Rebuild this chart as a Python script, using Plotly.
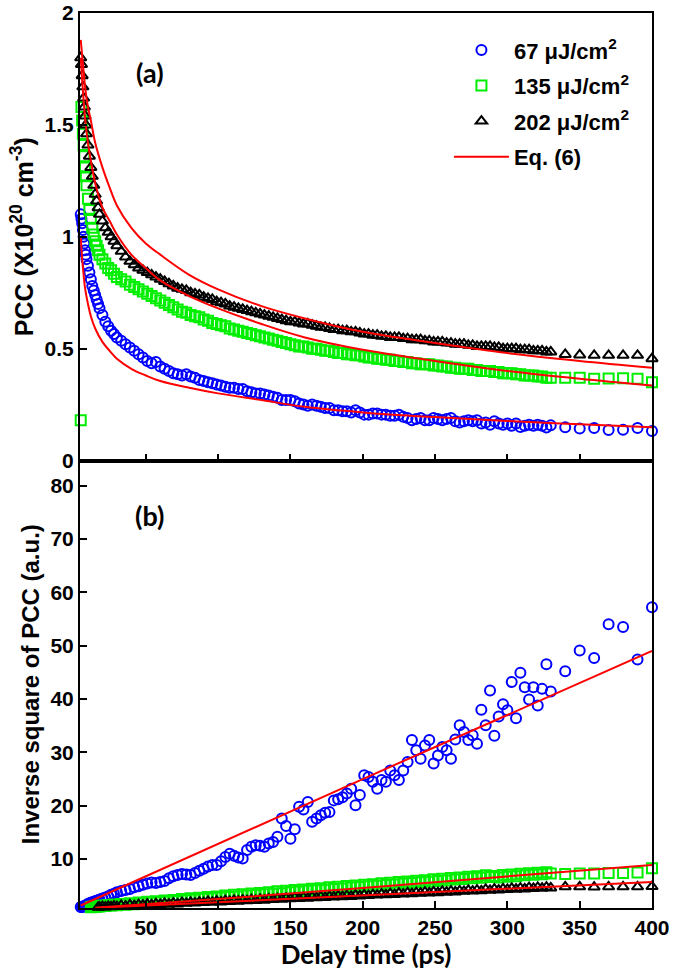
import plotly.graph_objects as go
from plotly.subplots import make_subplots

# delay times (ps) of the measured points
delay = [
    5, 5.5, 6, 6.5, 7, 7.5, 8, 8.5, 9, 10,
    11, 12, 13, 14, 15, 16, 17, 18, 20, 22,
    24, 26, 28, 30, 33, 36, 39, 42, 45, 48,
    51, 54, 57, 60, 63, 66, 69, 72, 75, 78,
    81, 84, 87, 90, 93, 96, 99, 102, 105, 108,
    111, 114, 117, 120, 123, 126, 129, 132, 135, 138,
    141, 144, 147, 150, 153, 156, 159, 162, 165, 168,
    171, 174, 177, 180, 183, 186, 189, 192, 195, 198,
    201, 204, 207, 210, 213, 216, 219, 222, 225, 228,
    231, 234, 237, 240, 243, 246, 249, 252, 255, 258,
    261, 264, 267, 270, 273, 276, 279, 282, 285, 288,
    291, 294, 297, 300, 303, 306, 309, 312, 315, 318,
    321, 324, 327, 330, 340, 350, 360, 370, 380, 390,
    400,
]

# (a) PCC, x10^20 cm^-3
pcc_67 = [
    1.10, 1.08, 1.06, 1.03, 1.00, 0.97, 0.94, 0.92, 0.90, 0.87,
    0.84, 0.81, 0.78, 0.76, 0.74, 0.72, 0.70, 0.68, 0.65, 0.62,
    0.60, 0.58, 0.565, 0.55, 0.535, 0.52, 0.505, 0.49, 0.475, 0.46,
    0.445, 0.435, 0.44, 0.42, 0.41, 0.40, 0.39, 0.385, 0.38, 0.385,
    0.375, 0.37, 0.36, 0.355, 0.35, 0.345, 0.34, 0.335, 0.33, 0.325,
    0.325, 0.32, 0.32, 0.31, 0.305, 0.30, 0.30, 0.295, 0.29, 0.285,
    0.28, 0.27, 0.27, 0.27, 0.265, 0.255, 0.25, 0.245, 0.25, 0.245,
    0.24, 0.235, 0.235, 0.225, 0.225, 0.22, 0.22, 0.215, 0.225, 0.215,
    0.205, 0.205, 0.21, 0.21, 0.205, 0.205, 0.20, 0.20, 0.205, 0.195,
    0.19, 0.18, 0.185, 0.19, 0.18, 0.18, 0.19, 0.185, 0.18, 0.185,
    0.19, 0.175, 0.17, 0.175, 0.18, 0.175, 0.18, 0.165, 0.17, 0.16,
    0.175, 0.165, 0.16, 0.165, 0.155, 0.165, 0.15, 0.155, 0.16, 0.155,
    0.16, 0.155, 0.148, 0.157, 0.149, 0.143, 0.145, 0.136, 0.137, 0.145,
    0.132,
]
pcc_135 = [
    0.18, 1.58, 1.52, 1.46, 1.41, 1.36, 1.31, 1.27, 1.23, 1.17,
    1.12, 1.08, 1.04, 1.01, 0.98, 0.96, 0.94, 0.92, 0.90, 0.88,
    0.86, 0.85, 0.835, 0.82, 0.81, 0.80, 0.785, 0.775, 0.765, 0.755,
    0.745, 0.735, 0.725, 0.715, 0.705, 0.695, 0.685, 0.675, 0.665, 0.66,
    0.65, 0.645, 0.64, 0.63, 0.625, 0.615, 0.61, 0.605, 0.60, 0.59,
    0.585, 0.58, 0.575, 0.57, 0.565, 0.56, 0.555, 0.55, 0.545, 0.54,
    0.535, 0.53, 0.525, 0.52, 0.515, 0.51, 0.51, 0.505, 0.50, 0.50,
    0.495, 0.49, 0.49, 0.485, 0.48, 0.48, 0.475, 0.475, 0.47, 0.47,
    0.465, 0.46, 0.46, 0.455, 0.455, 0.45, 0.45, 0.445, 0.445, 0.44,
    0.44, 0.435, 0.435, 0.43, 0.43, 0.43, 0.425, 0.425, 0.42, 0.42,
    0.415, 0.415, 0.41, 0.41, 0.41, 0.405, 0.405, 0.40, 0.40, 0.40,
    0.395, 0.395, 0.39, 0.39, 0.39, 0.385, 0.385, 0.38, 0.38, 0.38,
    0.375, 0.375, 0.37, 0.37, 0.37, 0.37, 0.365, 0.366, 0.368, 0.365,
    0.35,
]
pcc_202 = [
    1.80, 1.77, 1.72, 1.67, 1.62, 1.58, 1.54, 1.50, 1.46, 1.41,
    1.36, 1.31, 1.27, 1.23, 1.19, 1.16, 1.13, 1.10, 1.07, 1.04,
    1.02, 1.00, 0.98, 0.96, 0.935, 0.91, 0.89, 0.875, 0.86, 0.85,
    0.84, 0.83, 0.82, 0.81, 0.80, 0.79, 0.78, 0.77, 0.765, 0.76,
    0.75, 0.745, 0.74, 0.73, 0.725, 0.72, 0.71, 0.705, 0.70, 0.69,
    0.685, 0.68, 0.675, 0.67, 0.665, 0.66, 0.655, 0.65, 0.645, 0.64,
    0.635, 0.63, 0.625, 0.62, 0.62, 0.615, 0.61, 0.61, 0.605, 0.60,
    0.595, 0.595, 0.59, 0.585, 0.585, 0.58, 0.58, 0.575, 0.575, 0.57,
    0.565, 0.565, 0.56, 0.56, 0.555, 0.555, 0.55, 0.55, 0.55, 0.545,
    0.545, 0.54, 0.54, 0.54, 0.535, 0.535, 0.53, 0.53, 0.53, 0.525,
    0.525, 0.52, 0.52, 0.52, 0.515, 0.515, 0.51, 0.51, 0.51, 0.51,
    0.505, 0.505, 0.50, 0.50, 0.50, 0.50, 0.495, 0.495, 0.495, 0.49,
    0.49, 0.49, 0.485, 0.485, 0.474, 0.472, 0.47, 0.47, 0.47, 0.47,
    0.455,
]

# (b) inverse square of PCC, a.u. (None = below the axis)
inv_67 = [
    1.0, 1.0, 1.05, 1.1, 1.1, 1.15, 1.2, 1.3, 1.4, 1.6,
    1.7, 1.8, 1.9, 2.0, 2.1, 2.2, 2.3, 2.4, 2.6, 2.8,
    3.0, 3.3, 3.5, 3.8, 4.0, 4.2, 4.4, 4.7, 4.9, 5.2,
    5.4, 5.6, 5.5, 5.7, 5.9, 6.4, 6.8, 7.0, 7.2, 7.1,
    7.0, 7.4, 7.8, 8.2, 8.6, 8.9, 8.9, 9.6, 10.4, 11.0,
    10.6, 10.3, 10.1, 11.7, 12.3, 12.6, 12.5, 12.3, 12.9, 13.2,
    14.2, 17.6, 16.2, 13.8, 15.6, 19.8, 19.3, 20.7, 17.0, 17.6,
    18.2, 18.7, 18.8, 21.0, 21.2, 21.6, 22.3, 23.2, 20.1, 22.0,
    25.7, 25.4, 24.5, 23.2, 24.8, 24.5, 26.6, 25.7, 24.8, 26.6,
    28.2, 32.3, 30.4, 28.8, 31.3, 32.3, 27.9, 29.4, 31.0, 30.4,
    28.8, 32.4, 35.1, 33.8, 32.3, 33.2, 31.6, 38.0, 35.1, 41.6,
    33.1, 36.7, 39.0, 37.9, 43.2, 36.4, 44.9, 42.2, 39.9, 42.2,
    38.8, 41.9, 46.5, 41.4, 45.2, 49.1, 47.7, 54.0, 53.5, 47.4,
    57.2,
]
inv_135 = [
    None, None, None, None, None, None, None, None, None, None,
    None, 0.95, 1.05, 1.0, 1.15, 1.05, 1.2, 1.1, 1.3, 1.2,
    1.4, 1.3, 1.5, 1.35, 1.6, 1.45, 1.7, 1.55, 1.85, 1.7,
    2.0, 1.8, 2.1, 1.95, 2.25, 2.05, 2.35, 2.15, 2.5, 2.3,
    2.65, 2.4, 2.75, 2.55, 2.9, 2.65, 3.0, 2.8, 3.15, 2.9,
    3.3, 3.0, 3.4, 3.15, 3.55, 3.25, 3.65, 3.4, 3.8, 3.5,
    3.95, 3.6, 4.05, 3.8, 4.2, 3.9, 4.3, 4.05, 4.45, 4.15,
    4.55, 4.25, 4.7, 4.4, 4.8, 4.5, 4.95, 4.65, 5.05, 4.75,
    5.2, 4.9, 5.3, 5.0, 5.45, 5.15, 5.55, 5.25, 5.7, 5.4,
    5.8, 5.5, 5.95, 5.65, 6.05, 5.75, 6.2, 5.9, 6.3, 6.0,
    6.45, 6.15, 6.55, 6.25, 6.7, 6.4, 6.8, 6.5, 6.95, 6.65,
    6.85, 6.55, 7.0, 6.7, 7.1, 6.8, 7.25, 6.95, 7.35, 7.05,
    7.45, 7.15, 7.55, 7.3, 7.2, 7.3, 7.3, 7.4, 7.4, 7.5,
    8.3,
]
inv_202 = [
    None, None, None, None, None, None, None, None, None, None,
    None, None, None, None, None, None, 0.95, 1.0, 1.1, 1.0,
    1.15, 1.05, 1.2, 1.1, 1.3, 1.2, 1.4, 1.25, 1.45, 1.35,
    1.55, 1.4, 1.6, 1.5, 1.7, 1.55, 1.75, 1.6, 1.85, 1.7,
    1.9, 1.75, 1.95, 1.85, 2.05, 1.9, 2.1, 1.95, 2.2, 2.05,
    2.25, 2.1, 2.3, 2.2, 2.4, 2.25, 2.45, 2.3, 2.55, 2.4,
    2.6, 2.45, 2.65, 2.55, 2.75, 2.6, 2.8, 2.65, 2.9, 2.75,
    2.95, 2.8, 3.0, 2.9, 3.1, 2.95, 3.15, 3.0, 3.25, 3.1,
    3.3, 3.15, 3.35, 3.25, 3.45, 3.3, 3.5, 3.35, 3.6, 3.45,
    3.65, 3.5, 3.7, 3.6, 3.8, 3.65, 3.85, 3.7, 3.95, 3.8,
    4.0, 3.85, 4.05, 3.95, 4.15, 4.0, 4.2, 4.05, 4.3, 4.15,
    4.35, 4.2, 4.4, 4.3, 4.5, 4.35, 4.55, 4.4, 4.65, 4.5,
    4.7, 4.55, 4.75, 4.6, 4.8, 4.8, 4.75, 4.8, 4.8, 4.8,
    4.85,
]

# Eq. (6) fits
fit_t = [5, 6, 7, 8, 10, 12, 15, 20, 25, 30, 40, 50, 60, 80, 100, 130, 160, 200, 250, 300, 350, 400]
fit_67 = [1.0, 0.9, 0.83, 0.77, 0.70, 0.645, 0.59, 0.53, 0.49, 0.455, 0.41, 0.38, 0.355,
          0.325, 0.30, 0.27, 0.24, 0.215, 0.194, 0.177, 0.162, 0.149]
fit_135 = [1.80, 1.70, 1.61, 1.53, 1.42, 1.34, 1.24, 1.13, 1.07, 1.01, 0.92, 0.86, 0.805,
           0.735, 0.68, 0.61, 0.55, 0.495, 0.445, 0.40, 0.365, 0.335]
fit_202 = [1.88, 1.81, 1.74, 1.67, 1.58, 1.52, 1.42, 1.31, 1.22, 1.14, 1.04, 0.97, 0.92,
           0.83, 0.765, 0.69, 0.635, 0.575, 0.525, 0.48, 0.445, 0.415]

lin_t_67 = [5, 100, 200, 300, 400]
lin_67 = [1.3, 12.9, 25.0, 37.0, 49.0]
lin_t_135 = [15, 100, 200, 300, 400]
lin_135 = [0.9, 2.5, 4.6, 6.8, 8.9]
lin_t_202 = [18, 100, 200, 300, 400]
lin_202 = [0.9, 1.95, 3.2, 4.45, 5.7]

names = ["67 μJ/cm<sup>2</sup>", "135 μJ/cm<sup>2</sup>", "202 μJ/cm<sup>2</sup>"]
colors = ["#0000ff", "#00ee00", "#000000"]
symbols = ["circle-open", "square-open", "triangle-up-open"]

fig = make_subplots(rows=2, cols=1, vertical_spacing=0)

top_sets = [pcc_67, pcc_135, pcc_202]
bot_sets = [inv_67, inv_135, inv_202]
for i in range(3):
    fig.add_trace(
        go.Scatter(
            x=delay, y=top_sets[i], mode="markers", name=names[i],
            legendgroup=str(i), cliponaxis=False,
            marker=dict(symbol=symbols[i], size=10, color=colors[i],
                        line=dict(width=2, color=colors[i])),
        ),
        row=1, col=1,
    )
for i in range(3):
    fig.add_trace(
        go.Scatter(
            x=delay, y=bot_sets[i], mode="markers", showlegend=False,
            cliponaxis=False,
            marker=dict(symbol=symbols[i], size=10, color=colors[i],
                        line=dict(width=2, color=colors[i])),
        ),
        row=2, col=1,
    )

# fitted curves
red = dict(color="#ff0000", width=2, shape="spline")
for j, yv in enumerate([fit_67, fit_135, fit_202]):
    fig.add_trace(
        go.Scatter(x=fit_t, y=yv, mode="lines", line=red, name="Eq. (6)",
                   legendgroup="3", showlegend=(j == 0)),
        row=1, col=1,
    )
for tx, yv in [(lin_t_67, lin_67), (lin_t_135, lin_135), (lin_t_202, lin_202)]:
    fig.add_trace(
        go.Scatter(x=tx, y=yv, mode="lines", line=dict(color="#ff0000", width=2),
                   showlegend=False),
        row=2, col=1,
    )

tick_font = dict(family="Liberation Sans", size=21, color="black", weight="bold")
axis_common = dict(
    showline=True, linewidth=2, linecolor="black", mirror=True,
    ticks="inside", ticklen=7, tickwidth=2, tickcolor="black",
    showgrid=False, zeroline=False, tickfont=tick_font, automargin=False,
)

fig.update_xaxes(range=[4.5, 400], tick0=0, dtick=50, **axis_common)
fig.update_xaxes(showticklabels=False, row=1, col=1)
fig.update_xaxes(
    title=dict(text="Delay time (ps)", standoff=2,
               font=dict(family="Lato", size=26, color="black", weight="bold")),
    row=2, col=1,
)
fig.update_yaxes(
    range=[0, 2], dtick=0.5,
    title=dict(text="PCC (X10<sup>20</sup> cm<sup>-3</sup>)", standoff=4,
               font=dict(family="Liberation Sans", size=25, color="black", weight="bold")),
    row=1, col=1, **axis_common,
)
fig.update_yaxes(
    range=[0.83, 84.7], tick0=0, dtick=10,
    title=dict(text="Inverse square of PCC (a.u.)", standoff=4,
               font=dict(family="Liberation Sans", size=24, color="black", weight="bold")),
    row=2, col=1, **axis_common,
)

label_font = dict(family="Lato", size=27, color="black", weight="bold")
fig.add_annotation(text="(a)", x=0.122, y=0.934, xref="paper", yref="paper",
                   xanchor="center", yanchor="middle", showarrow=False, font=label_font)
fig.add_annotation(text="(b)", x=0.122, y=0.438, xref="paper", yref="paper",
                   xanchor="center", yanchor="middle", showarrow=False, font=label_font)

fig.update_layout(
    width=675, height=970,
    margin=dict(l=80, r=23, t=13, b=62),
    plot_bgcolor="white", paper_bgcolor="white",
    legend=dict(
        x=0.645, y=0.982, xanchor="left", yanchor="top",
        bgcolor="rgba(0,0,0,0)", traceorder="grouped", tracegroupgap=4,
        itemwidth=55,
        font=dict(family="Liberation Sans", size=22, color="black", weight="bold"),
    ),
)

# page body has a default 8px margin; drop it so the figure sits at the corner
fig.write_html("out.html", config={"displayModeBar": False},
               post_script="document.body.style.margin = '0';")
